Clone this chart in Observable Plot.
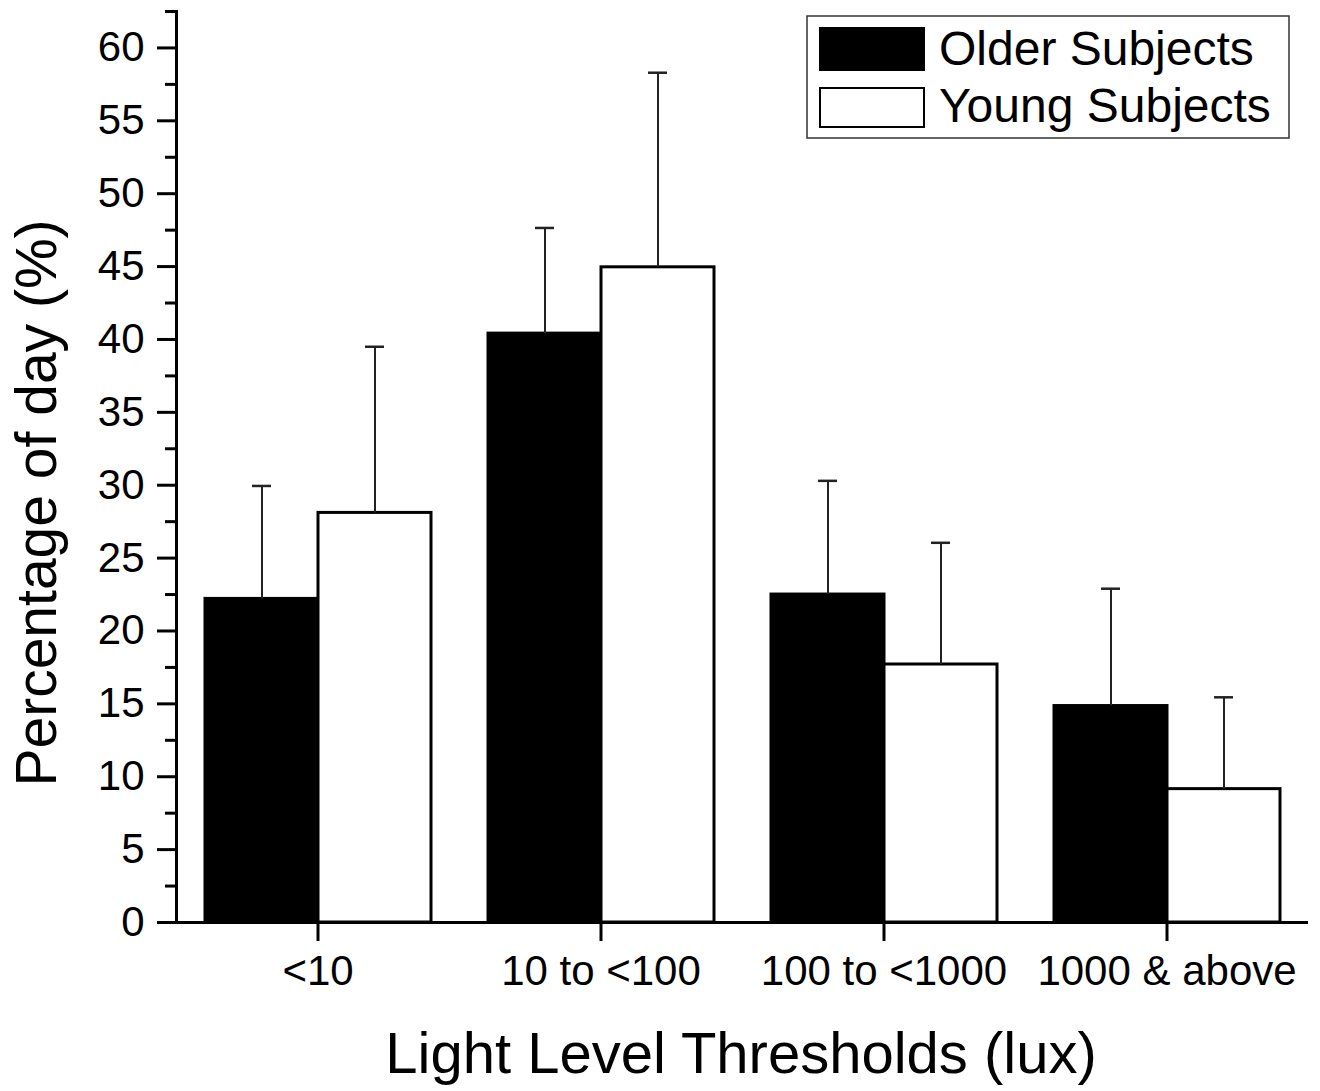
<!DOCTYPE html>
<html>
<head>
<meta charset="utf-8">
<script src="https://cdn.jsdelivr.net/npm/d3@7"></script>
<script src="https://cdn.jsdelivr.net/npm/@observablehq/plot@0.6"></script>
<style>
  html, body { margin: 0; padding: 0; background: white; }
  #chart { position: relative; width: 1320px; height: 1091px; }
</style>
</head>
<body>
<div id="chart"></div>
<script>
const categories = ["<10", "10 to <100", "100 to <1000", "1000 & above"];
const groups = ["Older Subjects", "Young Subjects"];
const groupFills = ["black", "white"];
const olderMean = [22.2, 40.4, 22.5, 14.85];
const olderErr = [7.75, 7.25, 7.8, 8.05];
const youngMean = [28.1, 44.95, 17.7, 9.15];
const youngErr = [11.4, 13.35, 8.35, 6.3];
const majorTicks = [0, 5, 10, 15, 20, 25, 30, 35, 40, 45, 50, 55, 60];
const minorTicks = [2.5, 7.5, 12.5, 17.5, 22.5, 27.5, 32.5, 37.5, 42.5, 47.5, 52.5, 57.5, 62.5];
const xTitle = "Light Level Thresholds (lux)";
const yTitle = "Percentage of day (%)";

const data = categories.flatMap((c, i) => [
  {cat: c, group: groups[0], value: olderMean[i], upper: olderMean[i] + olderErr[i]},
  {cat: c, group: groups[1], value: youngMean[i], upper: youngMean[i] + youngErr[i]}
]);

const FONT = "'Liberation Sans', Arial, Helvetica, sans-serif";

const chart = Plot.plot({
  width: 1320,
  height: 1091,
  marginLeft: 175,
  marginRight: 12,
  marginTop: 11,
  marginBottom: 169,
  style: {fontFamily: FONT, fontSize: "42px", color: "black", background: "white", overflow: "visible"},
  fx: {domain: categories, padding: 0, label: null},
  x: {domain: groups, paddingInner: 0, paddingOuter: 0.25, axis: null},
  y: {domain: [0, 62.5]},
  color: {domain: groups, range: groupFills},
  marks: [
    Plot.barY(data, {fx: "cat", x: "group", y: "value", fill: "group", stroke: "black", strokeWidth: 3}),
    Plot.ruleX(data, {fx: "cat", x: "group", y1: "value", y2: "upper", stroke: "#222", strokeWidth: 2}),
    Plot.tickY(data, {fx: "cat", x: "group", y: "upper", stroke: "#222", strokeWidth: 2.5, insetLeft: 47, insetRight: 47}),
    Plot.ruleY([0], {stroke: "black", strokeWidth: 3}),
    Plot.axisY({ticks: majorTicks, tickSize: 19, tickPadding: 13, strokeWidth: 3, label: null, fontSize: 42}),
    Plot.axisY({ticks: minorTicks, tickSize: 11, strokeWidth: 3, label: null, tickFormat: () => ""}),
    Plot.axisFx({anchor: "bottom", tickSize: 19, tickPadding: 14, strokeWidth: 3, label: null, fontSize: 42}),
    Plot.frame({anchor: "left", stroke: "black", strokeWidth: 3, facetAnchor: "left"})
  ]
});

document.getElementById("chart").appendChild(chart);

const svg = d3.select(chart);

// axis titles
svg.append("text")
  .attr("x", 741).attr("y", 1073)
  .attr("text-anchor", "middle")
  .attr("font-family", FONT).attr("font-size", 58).attr("fill", "black")
  .text(xTitle);

svg.append("text")
  .attr("transform", "translate(56,503) rotate(-90)")
  .attr("text-anchor", "middle")
  .attr("font-family", FONT).attr("font-size", 57).attr("fill", "black")
  .text(yTitle);

// legend
const lg = svg.append("g").attr("text-anchor", "start");
lg.append("rect").attr("x", 807).attr("y", 16).attr("width", 482).attr("height", 122)
  .attr("fill", "white").attr("stroke", "#333").attr("stroke-width", 1.5);
groups.forEach((g, i) => {
  lg.append("rect")
    .attr("x", 820).attr("y", i === 0 ? 28 : 88)
    .attr("width", 104).attr("height", i === 0 ? 42 : 39)
    .attr("fill", groupFills[i]).attr("stroke", "black").attr("stroke-width", 2);
  lg.append("text")
    .attr("x", 939).attr("y", i === 0 ? 65 : 122)
    .attr("text-anchor", "start")
    .attr("font-family", FONT).attr("font-size", 48).attr("fill", "black")
    .text(g);
});
</script>
</body>
</html>
